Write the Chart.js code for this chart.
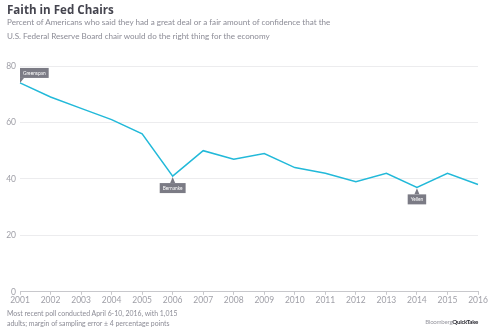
<!DOCTYPE html>
<html>
<head>
<meta charset="utf-8">
<script src="https://cdn.jsdelivr.net/npm/chart.js@4"></script>
<style>
  body { margin: 0; background: #fff; font-family: "Lato", "Open Sans", sans-serif; }
  #wrap { position: relative; width: 488px; height: 334px; overflow: hidden; }
  #chart { position: absolute; left: 0; top: 0; }
  .title { position: absolute; left: 7px; top: 2px; font-family: "Open Sans", sans-serif; font-size: 11.6px; font-weight: bold; color: #45454f; }
  .sub { position: absolute; left: 7px; font-size: 8.1px; color: #8c8c96; white-space: nowrap; }
  .note { position: absolute; left: 7px; top: 308px; font-size: 6.9px; line-height: 10px; color: #8c8c96; }
  .brand { position: absolute; right: 10px; top: 318px; font-size: 6.2px; color: #9a9aa2; letter-spacing: -0.3px; }
  .brand b { color: #2d2d35; }
</style>
</head>
<body>
<div id="wrap">
  <canvas id="chart" width="488" height="334"></canvas>
  <div class="title">Faith in Fed Chairs</div>
  <div class="sub" style="top:17px">Percent of Americans who said they had a great deal or a fair amount of confidence that the</div>
  <div class="sub" style="top:31px">U.S. Federal Reserve Board chair would do the right thing for the economy</div>
  <div class="note">Most recent poll conducted April 6-10, 2016, with 1,015<br>adults; margin of sampling error ± 4 percentage points</div>
  <div class="brand">Bloomberg<b>QuickTake</b></div>
</div>
<script>
const years = ["2001","2002","2003","2004","2005","2006","2007","2008","2009","2010","2011","2012","2013","2014","2015","2016"];
const confidence = [74, 69, 65, 61, 56, 41, 50, 47, 49, 44, 42, 39, 42, 37, 42, 38];
const yTicks = [0, 20, 40, 60, 80];
const chairLabels = [
  { year: "2001", name: "Greenspan", pos: "above" },
  { year: "2006", name: "Bernanke", pos: "below" },
  { year: "2014", name: "Yellen", pos: "below" }
];

// little grey tags pinned to the data points
const tagPlugin = {
  id: "tags",
  afterDatasetsDraw(chart) {
    const ctx = chart.ctx;
    const xs = chart.scales.x, ys = chart.scales.y;
    ctx.save();
    ctx.font = "4.8px Lato, sans-serif";
    chairLabels.forEach(t => {
      const i = years.indexOf(t.year);
      const px = xs.getPixelForValue(i);
      const py = ys.getPixelForValue(confidence[i]);
      const w = ctx.measureText(t.name).width + 6;
      const h = 10;
      let bx, by;
      ctx.fillStyle = "#7b7b85";
      ctx.beginPath();
      if (t.pos === "above") {
        bx = px; by = py - 15;
        ctx.moveTo(px, py);
        ctx.lineTo(px, by + h);
        ctx.lineTo(px + 4, by + h);
      } else {
        bx = px - w / 2; by = py + 7;
        ctx.moveTo(px, py + 1);
        ctx.lineTo(px - 2.5, by);
        ctx.lineTo(px + 2.5, by);
      }
      ctx.fill();
      ctx.fillRect(bx, by, w, h);
      ctx.fillStyle = "#fff";
      ctx.textBaseline = "middle";
      ctx.fillText(t.name, bx + 3, by + h / 2 + 0.5);
    });
    ctx.restore();
  }
};

new Chart(document.getElementById("chart"), {
  type: "line",
  data: {
    labels: years,
    datasets: [{
      data: confidence,
      borderColor: "#22b9d9",
      borderWidth: 1.5,
      pointRadius: 0,
      tension: 0,
      fill: false
    }]
  },
  options: {
    responsive: false,
    animation: false,
    layout: { padding: { left: 0, right: 10, top: 66, bottom: 29 } },
    plugins: { legend: { display: false }, tooltip: { enabled: false } },
    scales: {
      x: {
        offset: false,
        grid: { drawOnChartArea: false, drawTicks: true, tickLength: 3, color: "#c8c8cc" },
        border: { color: "#c8c8cc", width: 1 },
        ticks: { color: "#a0a0a8", font: { family: "Lato", size: 8.5 }, padding: 0, maxRotation: 0, autoSkip: false }
      },
      y: {
        min: 0, max: 80,
        afterBuildTicks: s => { s.ticks = yTicks.map(v => ({ value: v })); },
        afterFit: s => { s.width = 20; },
        grid: { color: "#ececee", drawTicks: false },
        border: { display: false },
        ticks: { color: "#a0a0a8", font: { family: "Lato", size: 8.5 }, padding: 4 }
      }
    }
  },
  plugins: [tagPlugin]
});
</script>
</body>
</html>
